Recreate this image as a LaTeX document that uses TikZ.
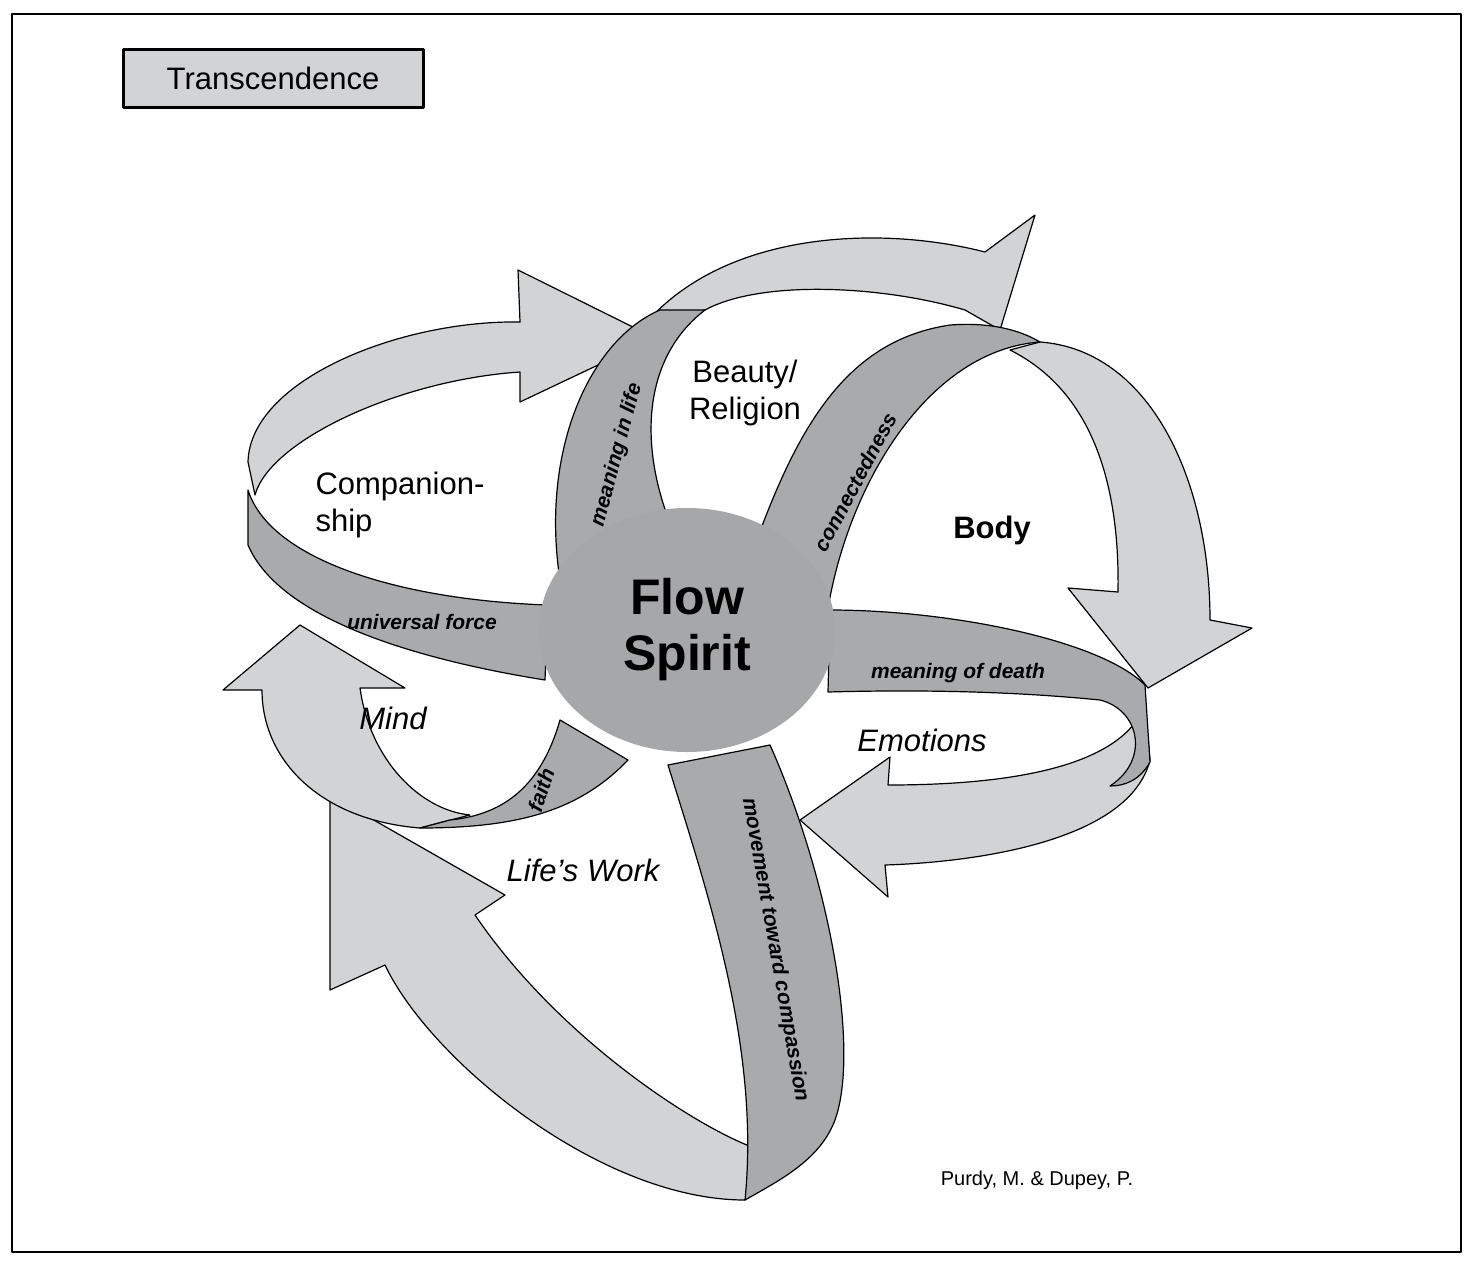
\documentclass[tikz,border=0pt]{standalone}
\usepackage{fontspec}
\setmainfont{Liberation Sans}
\usetikzlibrary{shapes.geometric}
\begin{document}
\begin{tikzpicture}[x=1pt,y=-1pt,line join=round,
  arrowfill/.style={draw=black,line width=1.2pt,fill=lightband},
  band/.style={draw=black,line width=1.2pt,fill=darkband},
  lbl/.style={font=\fontsize{31}{37}\selectfont,align=left},
  tag/.style={font=\fontsize{21}{24}\selectfont\bfseries\itshape,inner sep=0pt}]
\definecolor{lightband}{HTML}{D2D3D5}
\definecolor{darkband}{HTML}{A9AAAC}
\definecolor{hub}{HTML}{A6A7A9}
\useasboundingbox (0,0) rectangle (1472,1266);
\draw[line width=1.5pt] (12,14) rectangle (1461,1252);

% title box
\node[draw=black,line width=3pt,fill=lightband,minimum width=300pt,minimum height=58pt,
  font=\fontsize{31}{34}\selectfont] (title) at (273,78) {Transcendence};

% light arrows
\filldraw[arrowfill] (248,462) .. controls (250,380) and (400,320) .. (520,322)
  -- (518,270) -- (655,338) -- (520,402) -- (520,372)
  .. controls (400,380) and (270,440) .. (255,495) -- cycle;
\filldraw[arrowfill] (640,330) .. controls (720,230) and (880,225) .. (985,252)
  -- (1035,215) -- (1000,330) -- (965,310)
  .. controls (880,285) and (760,280) .. (705,310) -- cycle;
\filldraw[arrowfill] (1040,342) .. controls (1150,350) and (1210,480) .. (1210,620)
  -- (1252,628) -- (1148,688) -- (1068,588) -- (1118,592)
  .. controls (1120,480) and (1090,390) .. (1010,350) -- cycle;
\filldraw[arrowfill] (1150,760) .. controls (1130,840) and (980,862) .. (885,865)
  -- (888,897) -- (800,820) -- (890,757) -- (888,785)
  .. controls (1000,785) and (1120,770) .. (1145,705) -- cycle;
\filldraw[arrowfill] (745,1200) .. controls (600,1200) and (430,1060) .. (385,965)
  -- (330,990) -- (330,795) -- (505,895) -- (475,915)
  .. controls (560,1040) and (700,1130) .. (760,1150) -- cycle;
\filldraw[arrowfill] (420,828) .. controls (320,820) and (262,760) .. (262,690)
  -- (223,690) -- (300,625) -- (405,688) -- (360,688)
  .. controls (370,760) and (420,810) .. (470,815) -- cycle;

% dark bands
\filldraw[band] (548,605) .. controls (400,600) and (270,560) .. (248,490)
  -- (248,545) .. controls (280,620) and (420,660) .. (545,680) -- cycle;
\filldraw[band] (560,580) .. controls (540,450) and (590,340) .. (660,310)
  -- (705,310) .. controls (640,360) and (640,450) .. (672,528) -- cycle;
\filldraw[band] (755,545) .. controls (800,420) and (850,340) .. (950,325)
  .. controls (990,322) and (1020,330) .. (1040,342)
  .. controls (930,350) and (850,480) .. (828,608) -- cycle;
\filldraw[band] (830,610) .. controls (950,610) and (1100,640) .. (1145,685)
  -- (1150,762) .. controls (1140,780) and (1125,786) .. (1110,786)
  .. controls (1150,760) and (1140,710) .. (1100,700)
  .. controls (1000,690) and (900,690) .. (828,692) -- cycle;
\filldraw[band] (668,765) .. controls (710,900) and (760,1050) .. (745,1200)
  .. controls (780,1180) and (820,1160) .. (835,1120)
  .. controls (860,1050) and (830,880) .. (770,745) -- cycle;
\filldraw[band] (560,720) .. controls (540,790) and (500,815) .. (450,820)
  -- (420,828) .. controls (520,828) and (580,810) .. (628,760) -- cycle;

% hub
\node[ellipse,fill=hub,minimum width=296pt,minimum height=244pt,align=center,
  font=\fontsize{50}{56}\selectfont\bfseries] (flow) at (687,630) {Flow\\Spirit};

% labels
\node[lbl,anchor=west] (comp) at (312,505) {Companion-\\ship};
\node[lbl,align=center] (beauty) at (745,393) {Beauty/\\Religion};
\node[lbl,font=\fontsize{31}{37}\selectfont\bfseries] (body) at (992,530) {Body};
\node[lbl,font=\fontsize{31}{37}\selectfont\itshape] (emot) at (922,740) {Emotions};
\node[lbl,font=\fontsize{31}{37}\selectfont\itshape] (mind) at (393,718) {Mind};
\node[lbl,font=\fontsize{31}{37}\selectfont\itshape] (work) at (583,870) {Life's Work};

\node[tag] (univ) at (422,622) {universal force};
\node[tag] (death) at (958,673) {meaning of death};
\node[tag,rotate=75] (life) at (617,455) {meaning in life};
\node[tag,rotate=62] (conn) at (855,482) {connectedness};
\node[tag,rotate=72] (faith) at (541,790) {faith};
\node[tag,rotate=-80] (comp2) at (775,950) {movement toward compassion};

\node[font=\fontsize{20}{22}\selectfont] (credit) at (1037,1180) {Purdy, M. \& Dupey, P.};
\end{tikzpicture}
\end{document}
